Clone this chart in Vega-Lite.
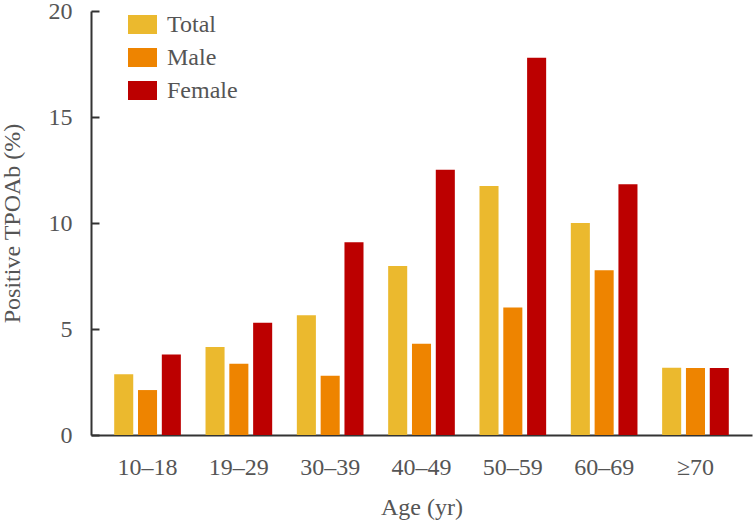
{
  "$schema": "https://vega.github.io/schema/vega-lite/v6.json",
  "width": 661,
  "height": 424,
  "autosize": "none",
  "padding": {"left": 91, "top": 11, "right": 1, "bottom": 94},
  "background": "white",
  "config": {
    "view": {"stroke": null},
    "font": "Liberation Serif"
  },
  "data": {
    "values": [
      {"age": "10–18", "group": "Total", "value": 2.87},
      {"age": "10–18", "group": "Male", "value": 2.12},
      {"age": "10–18", "group": "Female", "value": 3.8},
      {"age": "19–29", "group": "Total", "value": 4.15},
      {"age": "19–29", "group": "Male", "value": 3.36},
      {"age": "19–29", "group": "Female", "value": 5.29},
      {"age": "30–39", "group": "Total", "value": 5.65},
      {"age": "30–39", "group": "Male", "value": 2.79},
      {"age": "30–39", "group": "Female", "value": 9.09},
      {"age": "40–49", "group": "Total", "value": 7.97},
      {"age": "40–49", "group": "Male", "value": 4.3},
      {"age": "40–49", "group": "Female", "value": 12.51},
      {"age": "50–59", "group": "Total", "value": 11.75},
      {"age": "50–59", "group": "Male", "value": 6.01},
      {"age": "50–59", "group": "Female", "value": 17.8},
      {"age": "60–69", "group": "Total", "value": 10.0},
      {"age": "60–69", "group": "Male", "value": 7.77},
      {"age": "60–69", "group": "Female", "value": 11.83},
      {"age": "≥70", "group": "Total", "value": 3.17},
      {"age": "≥70", "group": "Male", "value": 3.16},
      {"age": "≥70", "group": "Female", "value": 3.16}
    ]
  },
  "mark": {"type": "bar"},
  "encoding": {
    "x": {
      "field": "age",
      "type": "nominal",
      "sort": null,
      "scale": {"paddingInner": 0.27, "paddingOuter": 0.254},
      "axis": {
        "title": "Age (yr)",
        "labelAngle": 0,
        "labelFontSize": 24,
        "labelColor": "#555555",
        "labelPadding": 20,
        "ticks": false,
        "domainColor": "#333333",
        "domainWidth": 2,
        "titleFontSize": 24,
        "titleFontWeight": "normal",
        "titleColor": "#555555",
        "titlePadding": 16
      }
    },
    "xOffset": {
      "field": "group",
      "type": "nominal",
      "sort": ["Total", "Male", "Female"],
      "scale": {"paddingInner": 0.2, "paddingOuter": 0}
    },
    "y": {
      "field": "value",
      "type": "quantitative",
      "scale": {"domain": [0, 20], "nice": false},
      "axis": {
        "title": "Positive TPOAb (%)",
        "values": [0, 5, 10, 15, 20],
        "grid": false,
        "labelFontSize": 24,
        "labelColor": "#555555",
        "tickSize": -8,
        "tickColor": "#333333",
        "tickWidth": 2,
        "labelPadding": 27,
        "domainColor": "#333333",
        "domainWidth": 2,
        "titleFontSize": 24,
        "titleFontWeight": "normal",
        "titleColor": "#555555",
        "titleX": -72,
        "titleY": 212,
        "titleAngle": -90,
        "titleAlign": "center",
        "titleBaseline": "alphabetic"
      }
    },
    "color": {
      "field": "group",
      "type": "nominal",
      "sort": ["Total", "Male", "Female"],
      "scale": {
        "domain": ["Total", "Male", "Female"],
        "range": ["#EBB92E", "#EE8400", "#BC0000"]
      },
      "legend": {
        "title": null,
        "orient": "none",
        "legendX": 37,
        "legendY": -1,
        "labelFontSize": 24,
        "labelColor": "#555555",
        "symbolType": "M-1,-0.655H1V0.655H-1Z",
        "symbolSize": 841,
        "symbolStrokeWidth": 0,
        "symbolOpacity": 1,
        "rowPadding": 6,
        "labelOffset": 10
      }
    }
  }
}
